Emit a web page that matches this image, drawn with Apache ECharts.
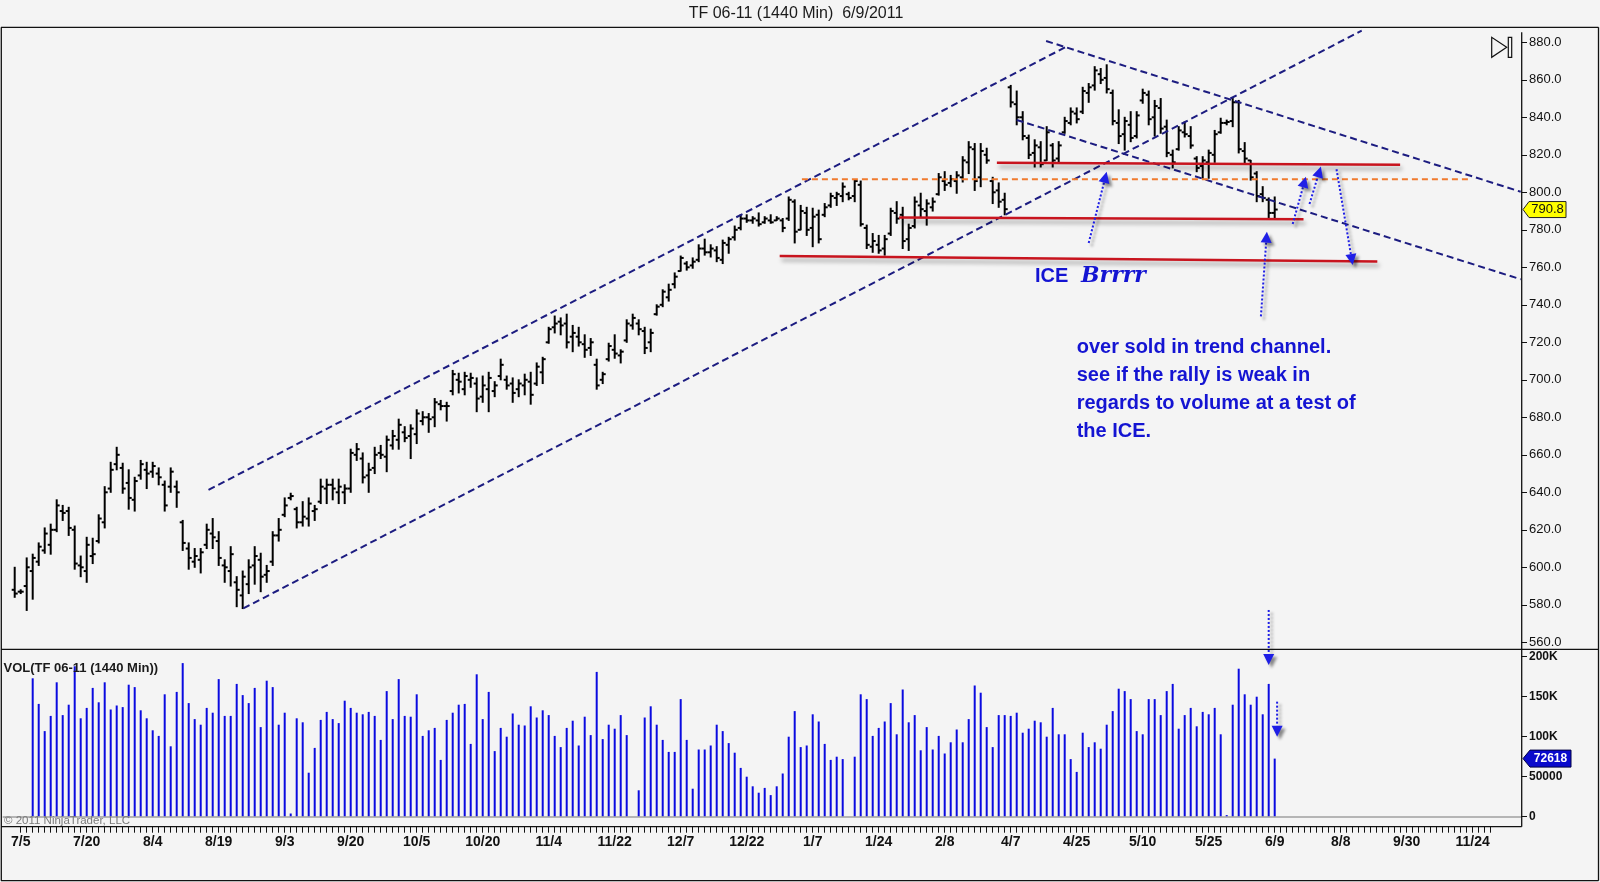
<!DOCTYPE html>
<html>
<head>
<meta charset="utf-8">
<title>TF 06-11 (1440 Min) 6/9/2011</title>
<script src="https://cdn.jsdelivr.net/npm/echarts@6.0.0/dist/echarts.min.js"></script>
<style>
  html, body { margin: 0; padding: 0; background: #f4f4f4; }
  #chart { width: 1600px; height: 882px; }
</style>
</head>
<body>
<div id="chart"></div>
<script>
// daily bars, index 0 = one day before 7/5/2010, last index = 6/9/2011
const opens = [
  588,587,590,598,603,609,612,620,630,630, 620,601,598,606,614,624,642,655,653,645,
  636,649,652,651,650,644,643,643,624,610, 603,604,612,618,614,601,598,592,585,591,
  601,604,596,603,617,628,637,631,624,626, 630,635,642,644,640,640,642,660,658,649,
  653,661,659,665,668,672,670,671,678,680, 680,687,686,694,700,695,700,698,691,695,
  694,702,700,698,695,697,699,698,704,720, 728,731,730,723,723,719,717,708,700,711,
  716,713,721,729,730,726,720,735,740,744, 751,758,762,761,764,770,768,769,764,772,
  776,781,786,785,785,784,785,785,785,786, 795,780,789,781,788,788,793,797,798,799,
  798,804,781,771,772,770,778,789,788,775, 782,793,790,792,799,806,805,806,808,816,
  823,808,820,806,801,796,856,847,840,829, 821,824,817,825,818,832,837,842,843,853,
  857,863,861,853,837,831,836,830,849,852, 840,845,835,820,823,832,830,818,814,816,
  820,832,837,838,848,822,817,810,799,796, 789
];
const highs = [
  600,588,605,607,613,621,623,636,633,632, 622,606,616,615.5,628,643,656,664,655.5,652,
  648,657,656,656,653,646,653,646,625,613, 610,610,623,626,619,604,611,595,598,604,
  611,607.5,601,619,626,637,639.5,632,635,637, 633,647,647,647,647,644,663,666,661,655.5,
  664,665,670,673,679,675,676,684,683,682, 690,689,688,705,703.5,704,703.5,701,702,704,
  699,711,702,701,700,703,704,709,712,728, 734,733,735,729,728,724,722,711,704,719.5,
  724,716,732,735,732,728,727,740,748,751, 757,766,763,765,772,775,772,771,774.5,776,
  782,788,788,787,789,787,788,787,786,797.5, 796,793,792,791.5,790.5,794,799.5,800,805,800,
  806.5,806,782.5,778,777,777,791.5,795,792,783, 797.5,799.5,796,797,810,811,809,811,819,827,
  826,826,823.5,808,805,799.5,857,854,843,830.5, 828,827,835,826,827,840,845,845,856,858,
  867,866,868,854.5,844,840,843,843,855,854, 849,850,838.5,822.5,835,837.5,835,819,819,822.5,
  833,839.5,838.5,850,849,826.5,817,811,803,797, 797.5
];
const lows = [
  584,586,577,583,601,607.5,607,619,625,617, 599,595,592,602,613,621,640,652,639.5,631,
  630,647,642,648,644,630,640,632,609,599, 600,597,610,610,601,592,590,579,578,586,
  591,587,592,601,614,627,636,621,622,622, 625,634,634,636,634,634,640,657,645,640,
  650,658,651,663,663,667,658,666,676,672, 675,684,678,692,693,692,696,683,688,683,
  691,700,695,688,691,692,687,697,698,719.5, 725,724,717,715,718,712,713,695,698,710,
  711.5,709,720,727,724,714,715,734.5,739,742, 749,758,758.5,759.5,763,766.5,765.5,763,762,767.5,
  774.5,780,784,783.5,782,783.5,783.5,785,779,785, 773,780,777,771,773,787,792,793,795,796,
  795,782,770,768,767.5,766.5,777,783.5,770,769, 781,787,782.5,790,798.5,801,803,799.5,805.5,810,
  801,803,815.5,794,792,788,845.5,836,828,818, 813.5,813.5,817,813.5,815.5,831.5,836,837,842,848,
  854.5,858,853,836,826,822.5,827,829,847.5,836, 830,831.5,819,813,822.5,829.5,823.5,811,807.5,807.5,
  816,831.5,836,835,821,815.5,806.5,795,795,786, 786.5
];
const closes = [
  586,587,600,605,611,618,620,633,629,621, 602,600,612,607,626,640,652,660,642,637,
  646,655,650,654,648,633,651,640,613,605, 606,608,620,616,605,600,607,588,595,600,
  606,595,598,617,620,633,638,624,627,634, 631,643,644,642,643,642,661,663,648,652,
  660,660,668,670,676,669,674,682,680,679, 688,686,686,703,699,702,701,690,697,701,
  697,708,697,693,698,700,692,707,711,727, 730,729,720,725,720,716,720,697,703,718,
  714,715,730,733,727,717,725,739,747,748, 755,765,760,763,770,768,770,765,773,775,
  780,786,785,786,783,786,784,786,781,796, 779,790,780,787,775,792,798,799,803,797,
  806,783,772,774,769,775,790,786,774,781, 795,791,794,795,808,804,807,809,817,824,
  806,822,817,800,795,791,848,840,830,820, 825,815,832,817,825,838,843,839,854,856,
  865,860,855,838,830,838,829,841,853,839, 846,834,821,816,833,831,825,813,817,821,
  831,837,837.5,848,823,818,808,798,797,789, 790.8
];
const volumes = [
  0,0,0,173000,141000,107000,126000,168000,127000,140000,
  188000,123000,136000,161000,143000,168000,134000,139000,137000,165000,
  162000,133000,123000,108000,101000,153000,88000,156000,192000,142000,
  122000,115000,136000,130000,172000,126000,126000,166000,152000,142000,
  161000,112000,170000,162000,115000,130000,4000,123000,118000,55000,
  86000,121000,131000,122000,117000,145000,136000,130000,128000,131000,
  126000,96000,157000,122000,172000,126000,125000,153000,101000,108000,
  111000,71000,121000,130000,140000,141000,91000,178000,122000,156000,
  82000,111000,100000,129000,115000,114000,138000,124000,133000,127000,
  101000,87000,111000,120000,89000,125000,102000,181000,97000,115000,
  110000,127000,102000,0,33000,124000,138000,115000,96000,81000,
  81000,147000,96000,35000,84000,84000,89000,115000,107000,92000,
  80000,61000,50000,38000,30000,36000,27000,38000,54000,100000,
  132000,87000,89000,128000,119000,91000,71000,75000,72000,0,
  75000,153000,147000,101000,111000,119000,142000,103000,159000,118000,
  127000,83000,112000,84000,101000,79000,93000,109000,93000,122000,
  164000,155000,112000,87000,127000,127000,126000,130000,105000,110000,
  120000,118000,100000,136000,103000,103000,72000,56000,105000,87000,
  93000,85000,115000,132000,160000,157000,147000,107000,103000,147000,
  147000,127000,157000,166000,110000,127000,136000,113000,131000,128000,
  136000,103000,2000,140000,185000,153000,140000,150000,128000,166000,
  72618
];

// date labels on the time axis and the bar index they sit under
const dateLabels = ['7/5','7/20','8/4','8/19','9/3','9/20','10/5','10/20','11/4','11/22','12/7','12/22',
  '1/7','1/24','2/8','4/7','4/25','5/10','5/25','6/9','8/8','9/30','11/24'];
const dateLabelAt = [1,12,23,34,45,56,67,78,89,100,111,122,133,144,155,166,177,188,199,210,221,232,243];
const priceTicks = { min: 560, max: 880, step: 20 };
const volTicks = { min: 0, max: 209250, step: 50000 };

// drawn studies: [x index, price]
const channelLines = [
  [[32.3, 641.3], [175.5, 878.0]],
  [[38.1, 578.1], [224.5, 886.2]],
  [[171.9, 880.7], [251.0, 800.3]],
  [[167.0, 838.6], [251.0, 753.6]]
];
const redLevels = [
  [[163.7, 815.7], [230.9, 814.7]],
  [[147.4, 786.5], [214.8, 785.6]],
  [[127.5, 766.0], [227.1, 763.1]]
];
const orangeLevel = [[131.2, 806.9], [242.3, 806.9]];
const priceArrows = [
  [[179.0, 773.0], [182.0, 810.9]],
  [[207.7, 733.8], [208.7, 779.0]],
  [[213.0, 783.1], [215.2, 808.3]],
  [[215.8, 793.8], [217.7, 813.7]],
  [[220.3, 812.3], [223.0, 761.2]]
];
const volArrows = [
  [[209.0, 258400], [209.0, 189600]],
  [[210.4, 143800], [210.4, 100000]]
];

const FONT = '"Liberation Sans", Arial, sans-serif';
const NARROW = '"Liberation Sans Narrow", "Arial Narrow", "Liberation Sans", sans-serif';
const BLUE = '#1414d2';

const ohlc = opens.map((o, i) => [i, o, highs[i], lows[i], closes[i]]);
const volData = volumes.map((v, i) => [i, v]);
const tickSlots = [];
for (let i = 1; i <= 246; i++) tickSlots.push(i);

function renderBar(params, api) {
  const x = api.value(0);
  const pO = api.coord([x, api.value(1)]);
  const pH = api.coord([x, api.value(2)]);
  const pL = api.coord([x, api.value(3)]);
  const pC = api.coord([x, api.value(4)]);
  const st = { stroke: '#000', lineWidth: 2 };
  return {
    type: 'group',
    children: [
      { type: 'line', shape: { x1: pH[0], y1: pH[1] - 0.5, x2: pL[0], y2: pL[1] + 0.5 }, style: st },
      { type: 'line', shape: { x1: pO[0] - 3, y1: pO[1], x2: pO[0], y2: pO[1] }, style: st },
      { type: 'line', shape: { x1: pC[0], y1: pC[1], x2: pC[0] + 3, y2: pC[1] }, style: st }
    ]
  };
}

function segment(pts, lineStyle) {
  return {
    type: 'line', xAxisIndex: 0, yAxisIndex: 0, data: pts, symbol: 'none',
    clip: false, silent: true, z: 3, lineStyle: lineStyle
  };
}

const series = [
  {
    type: 'custom', xAxisIndex: 0, yAxisIndex: 0, data: ohlc,
    renderItem: renderBar, encode: { x: 0, y: [1, 2, 3, 4] }, z: 2
  },
  {
    type: 'bar', xAxisIndex: 1, yAxisIndex: 1, data: volData, barWidth: 2,
    itemStyle: { color: '#0a0ae0' },
    markLine: {
      silent: true, symbol: 'none', label: { show: false },
      lineStyle: { color: '#a0a0a0', width: 1.5, type: 'solid' },
      data: [{ yAxis: 0 }]
    }
  }
];
channelLines.forEach(p => series.push(segment(p, { color: '#1c1c80', width: 2, type: [7, 4] })));
redLevels.forEach(p => series.push(segment(p, {
  color: '#c8141e', width: 2.5,
  shadowColor: 'rgba(0,0,0,0.35)', shadowBlur: 4, shadowOffsetX: 2, shadowOffsetY: 4
})));
series.push(segment(orangeLevel, { color: '#f07a2e', width: 2, type: [6, 4] }));

const chart = echarts.init(document.getElementById('chart'));
chart.setOption({
  animation: false,
  backgroundColor: '#f4f4f4',
  grid: [
    { left: 2.7, top: 42.3, width: 1518.3, height: 600 },
    { left: 2.7, top: 649.3, width: 1518.3, height: 167.4 }
  ],
  xAxis: [
    { type: 'value', gridIndex: 0, min: -2, max: 251.05, show: false },
    {
      type: 'value', gridIndex: 1, min: -2, max: 251.05, offset: 10, position: 'bottom',
      axisLine: { show: false, onZero: false },
      splitLine: { show: false },
      axisTick: { customValues: tickSlots, length: 6, lineStyle: { color: '#111', width: 1 } },
      axisLabel: {
        customValues: dateLabelAt, margin: 8, color: '#111',
        fontFamily: NARROW, fontWeight: 'bold', fontSize: 14,
        formatter: v => { const k = dateLabelAt.indexOf(Math.round(v)); return k >= 0 ? dateLabels[k] : ''; }
      }
    }
  ],
  yAxis: [
    {
      type: 'value', gridIndex: 0, position: 'right',
      min: priceTicks.min, max: priceTicks.max, interval: priceTicks.step,
      axisLine: { show: false, onZero: false }, splitLine: { show: false },
      axisTick: { show: true, length: 6, lineStyle: { color: '#111' } },
      axisLabel: { margin: 8, fontSize: 13, color: '#111', fontFamily: FONT, formatter: v => v.toFixed(1) }
    },
    {
      type: 'value', gridIndex: 1, position: 'right',
      min: volTicks.min, max: volTicks.max, interval: volTicks.step,
      axisLine: { show: false, onZero: false }, splitLine: { show: false },
      axisTick: { show: true, length: 6, lineStyle: { color: '#111' } },
      axisLabel: {
        margin: 8, fontSize: 12, fontWeight: 'bold', color: '#111', fontFamily: FONT,
        showMaxLabel: false,
        formatter: v => (v >= 100000 ? (v / 1000) + 'K' : String(v))
      }
    }
  ],
  series: series
});

// annotations placed from data coordinates
function arrow(p0, p1) {
  const dx = p1[0] - p0[0], dy = p1[1] - p0[1];
  const len = Math.hypot(dx, dy), ux = dx / len, uy = dy / len;
  const hl = 11, hw = 5.5;
  const bx = p1[0] - ux * hl, by = p1[1] - uy * hl;
  const shadow = { shadowColor: 'rgba(0,0,0,0.45)', shadowBlur: 3, shadowOffsetX: 3, shadowOffsetY: 3 };
  return [
    { type: 'line', silent: true, z: 20,
      shape: { x1: p0[0], y1: p0[1], x2: bx, y2: by },
      style: Object.assign({ stroke: '#1f1fe6', lineWidth: 2, lineDash: [2, 2] }, shadow) },
    { type: 'polygon', silent: true, z: 20,
      shape: { points: [[p1[0], p1[1]], [bx - uy * hw, by + ux * hw], [bx + uy * hw, by - ux * hw]] },
      style: Object.assign({ fill: '#1f1fe6' }, shadow) }
  ];
}
function hline(x1, y1, x2, y2) {
  return { type: 'line', silent: true, z: 30, shape: { x1, y1, x2, y2 }, style: { stroke: '#111', lineWidth: 1.3 } };
}

const g = [];
priceArrows.forEach(a => {
  g.push(...arrow(chart.convertToPixel({ gridIndex: 0 }, a[0]), chart.convertToPixel({ gridIndex: 0 }, a[1])));
});
volArrows.forEach(a => {
  g.push(...arrow(chart.convertToPixel({ gridIndex: 1 }, a[0]), chart.convertToPixel({ gridIndex: 1 }, a[1])));
});

// frame
g.push(hline(1, 27.3, 1598.5, 27.3));
g.push(hline(1.3, 27.3, 1.3, 880.7));
g.push(hline(1598.5, 27.3, 1598.5, 880.7));
g.push(hline(1, 880.7, 1598.5, 880.7));
g.push(hline(1, 649.3, 1598.5, 649.3));
g.push(hline(1, 826.7, 1521.7, 826.7));
g.push(hline(1521.7, 32.3, 1521.7, 826.7));

// last price / last volume markers
const lastY = chart.convertToPixel({ gridIndex: 0 }, [210, closes[closes.length - 1]])[1];
g.push({ type: 'polygon', z: 31, shape: { points: [[1523, lastY], [1529, lastY - 8], [1566, lastY - 8], [1566, lastY + 8], [1529, lastY + 8]] },
  style: { fill: '#ffff00', stroke: '#222', lineWidth: 1 } });
g.push({ type: 'text', z: 32, x: 1547.5, y: lastY, style: { text: closes[closes.length - 1].toFixed(1), font: '13px ' + FONT, fill: '#111', align: 'center', verticalAlign: 'middle' } });
const volY = chart.convertToPixel({ gridIndex: 1 }, [210, volumes[volumes.length - 1]])[1];
g.push({ type: 'polygon', z: 31, shape: { points: [[1523, volY], [1530, volY - 8.5], [1571, volY - 8.5], [1571, volY + 8.5], [1530, volY + 8.5]] },
  style: { fill: '#0a0acc', stroke: '#000044', lineWidth: 1 } });
g.push({ type: 'text', z: 32, x: 1550.5, y: volY, style: { text: String(volumes[volumes.length - 1]), font: 'bold 12px ' + FONT, fill: '#fff', align: 'center', verticalAlign: 'middle' } });

// scroll-to-end icon
g.push({ type: 'polygon', z: 31, shape: { points: [[1491.7, 37.3], [1491.7, 57.3], [1506.7, 47.3]] }, style: { fill: 'none', stroke: '#111', lineWidth: 1.2 } });
g.push({ type: 'rect', z: 31, shape: { x: 1508.3, y: 37.3, width: 3.4, height: 20 }, style: { fill: 'none', stroke: '#111', lineWidth: 1.2 } });

// texts
g.push({ type: 'text', z: 32, x: 796, y: 13.3, style: { text: 'TF 06-11 (1440 Min)  6/9/2011', font: '16px ' + FONT, fill: '#1a1a1a', align: 'center', verticalAlign: 'middle' } });
g.push({ type: 'text', z: 32, x: 3.5, y: 668.3, style: { text: 'VOL(TF 06-11 (1440 Min))', font: 'bold 13px ' + FONT, fill: '#1a1a1a', verticalAlign: 'middle' } });
g.push({ type: 'text', z: 32, x: 4, y: 820.7, style: { text: '\u00a9 2011 NinjaTrader, LLC', font: '11.5px ' + FONT, fill: '#7a7a7a', verticalAlign: 'middle' } });
g.push({ type: 'text', z: 32, x: 1035, y: 276, style: { text: 'ICE', font: 'bold 20px ' + FONT, fill: BLUE, verticalAlign: 'middle' } });
g.push({ type: 'text', z: 32, x: 1081, y: 276, style: { text: 'Brrrr', font: 'italic bold 22px "DejaVu Serif", serif', fill: BLUE, verticalAlign: 'middle' } });
g.push({ type: 'text', z: 32, x: 1076.7, y: 333.3, style: {
  text: 'over sold in trend channel.\nsee if the rally is weak in\nregards to volume at a test of\nthe ICE.',
  font: 'bold 20px ' + FONT, lineHeight: 28, fill: BLUE, verticalAlign: 'top' } });

chart.setOption({ graphic: { elements: g } });
</script>
</body>
</html>
